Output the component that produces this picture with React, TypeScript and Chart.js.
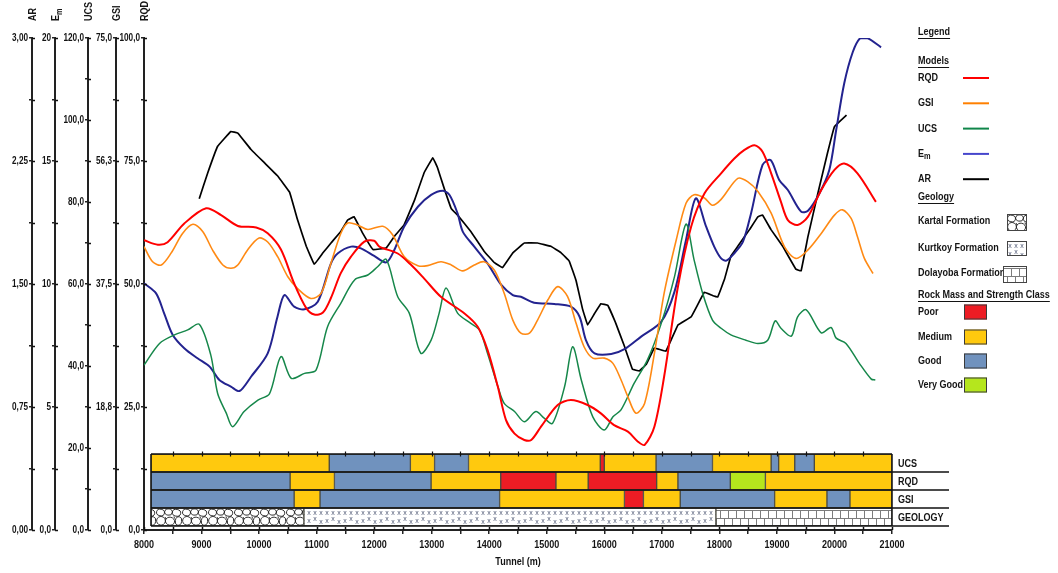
import { useEffect, useRef } from 'react';
import { Chart, registerables } from 'chart.js';

Chart.register(...registerables);

const W = 1058;
const H = 573;
const FONT = "'Liberation Sans', Arial, sans-serif";
const NARROW = 0.82; // the reference uses a narrow bold face

// ---- series: [chainage (m), value] ----
const rqdPoints: [number, number][] = [
  [8000, 58.9], [8240, 58.0], [8410, 58.5], [8700, 62.3], [9080, 65.4], [9340, 64.0], [9630, 61.8], [9950, 61.5],
  [10150, 60.3], [10380, 57.0], [10610, 50.1], [10820, 45.1], [10960, 43.8], [11110, 44.2], [11250, 47.2], [11420, 52.2],
  [11600, 55.6], [11830, 58.6], [12000, 58.8], [12090, 57.6], [12410, 56.2], [12640, 53.9], [12870, 51.1], [13160, 47.4],
  [13570, 44.0], [13800, 41.3], [13970, 36.6], [14150, 29.1], [14290, 22.4], [14440, 19.6], [14610, 18.3], [14730, 18.3],
  [14900, 21.0], [15190, 25.4], [15420, 26.4], [15710, 25.4], [15940, 23.7], [16170, 21.3], [16410, 20.0], [16580, 18.0],
  [16700, 17.3], [16870, 21.0], [17040, 31.2], [17280, 49.5], [17510, 61.7], [17740, 68.4], [18030, 72.5], [18260, 75.5],
  [18430, 77.2], [18610, 78.2], [18750, 76.9], [18900, 72.5], [19070, 66.7], [19190, 63.0], [19360, 62.0], [19540, 63.7],
  [19770, 69.1], [20000, 73.2], [20170, 74.5], [20400, 72.5], [20720, 66.7],
];

const gsiPoints: [number, number][] = [
  [8000, 43.2], [8150, 40.9], [8300, 40.4], [8470, 42.2], [8670, 45.2], [8850, 46.6], [9020, 45.5], [9190, 42.7],
  [9370, 40.4], [9510, 39.9], [9630, 40.4], [9800, 42.7], [10000, 44.5], [10150, 43.9], [10320, 41.7], [10500, 38.6],
  [10670, 36.8], [10900, 35.3], [11080, 36.1], [11250, 40.7], [11420, 45.2], [11540, 46.8], [11710, 46.5], [11890, 45.8],
  [12150, 46.3], [12320, 45.0], [12520, 41.7], [12760, 40.3], [12930, 40.3], [13160, 40.9], [13340, 40.4], [13540, 39.5],
  [13740, 40.4], [13910, 40.9], [14090, 39.6], [14260, 36.1], [14410, 32.0], [14550, 30.0], [14700, 30.0], [14840, 32.0],
  [15020, 35.1], [15190, 37.1], [15360, 35.6], [15510, 31.5], [15650, 27.9], [15800, 26.2], [16000, 26.2], [16150, 25.4],
  [16290, 22.9], [16410, 20.3], [16550, 17.8], [16700, 19.3], [16870, 26.9], [17040, 36.1], [17250, 44.2], [17420, 49.8],
  [17560, 51.1], [17740, 50.6], [17880, 49.5], [18030, 50.4], [18320, 53.6], [18490, 53.1], [18670, 51.6], [18900, 48.3],
  [19130, 43.2], [19330, 41.4], [19540, 42.7], [19770, 45.2], [20000, 48.0], [20140, 48.8], [20290, 47.5], [20400, 44.7],
  [20520, 41.4], [20670, 39.1],
];

const ucsPoints: [number, number][] = [
  [8000, 40.2], [8270, 45.5], [8530, 47.6], [8760, 48.8], [8960, 50.2], [9160, 42.7], [9280, 33.3], [9430, 28.5],
  [9540, 25.2], [9740, 28.9], [9980, 31.7], [10180, 33.2], [10380, 42.3], [10560, 37.0], [10790, 38.2], [10990, 39.0],
  [11190, 49.6], [11420, 55.3], [11660, 61.0], [11890, 62.2], [12060, 64.2], [12210, 66.0], [12410, 56.9], [12610, 52.9],
  [12810, 43.1], [12990, 46.3], [13130, 52.9], [13250, 59.0], [13450, 52.9], [13680, 50.4], [13830, 48.8], [13970, 43.1],
  [14150, 35.0], [14260, 30.9], [14440, 28.9], [14610, 26.4], [14810, 28.9], [14960, 27.2], [15100, 26.0], [15310, 35.0],
  [15450, 44.7], [15600, 36.6], [15800, 27.6], [16000, 24.4], [16150, 27.6], [16290, 29.3], [16520, 35.8], [16750, 41.5],
  [16990, 50.4], [17220, 61.8], [17420, 74.6], [17560, 65.9], [17710, 57.7], [17880, 51.2], [18030, 49.2], [18200, 47.6],
  [18460, 46.3], [18670, 45.5], [18840, 46.3], [18970, 51.0], [19070, 49.2], [19250, 47.3], [19360, 52.0], [19510, 53.7],
  [19770, 48.1], [19940, 49.4], [20030, 46.8], [20200, 45.5], [20430, 40.7], [20640, 36.8], [20710, 36.6],
];

const emPoints: [number, number][] = [
  [8000, 10.03], [8210, 9.62], [8350, 8.81], [8500, 7.93], [8700, 7.39], [8930, 6.98], [9140, 6.64], [9310, 6.10],
  [9510, 5.83], [9660, 5.65], [9860, 6.23], [10150, 7.18], [10320, 8.67], [10440, 9.55], [10610, 9.08], [10790, 8.97],
  [11020, 9.28], [11250, 10.84], [11370, 11.25], [11600, 11.52], [11770, 11.45], [12000, 11.14], [12210, 10.88], [12350, 11.38],
  [12520, 12.33], [12760, 13.14], [12990, 13.62], [13190, 13.79], [13310, 13.62], [13450, 12.87], [13540, 12.13], [13740, 11.52],
  [13970, 10.84], [14210, 9.96], [14410, 9.55], [14550, 9.48], [14780, 9.24], [15130, 9.19], [15420, 9.08], [15570, 8.67],
  [15680, 7.72], [15830, 7.18], [16120, 7.15], [16350, 7.35], [16640, 7.86], [16990, 8.47], [17220, 9.69], [17420, 11.79],
  [17590, 13.48], [17770, 12.33], [17910, 11.52], [18030, 11.04], [18120, 10.95], [18260, 11.25], [18410, 11.72], [18550, 12.87],
  [18750, 14.84], [18890, 15.04], [19040, 14.23], [19190, 13.82], [19420, 12.94], [19540, 12.98], [19740, 13.69], [19910, 14.63],
  [20030, 16.26], [20170, 18.16], [20320, 19.44], [20450, 20.0], [20580, 19.99], [20810, 19.62],
];

const arPoints: [number, number][] = [
  [8960, 2.02], [9110, 2.18], [9280, 2.34], [9510, 2.43], [9630, 2.42], [9860, 2.32], [10090, 2.24], [10320, 2.16],
  [10530, 2.06], [10670, 1.89], [10820, 1.73], [10960, 1.62], [11110, 1.69], [11250, 1.75], [11420, 1.82], [11540, 1.89],
  [11650, 1.91], [11800, 1.81], [11980, 1.71], [12210, 1.72], [12350, 1.79], [12520, 1.86], [12700, 2.01], [12870, 2.18],
  [13020, 2.27], [13100, 2.21], [13220, 2.08], [13340, 1.96], [13450, 1.92], [13680, 1.82], [13910, 1.70], [14090, 1.63],
  [14230, 1.60], [14410, 1.69], [14610, 1.75], [14840, 1.75], [15070, 1.73], [15250, 1.69], [15390, 1.64], [15510, 1.52],
  [15620, 1.35], [15710, 1.25], [15830, 1.32], [15940, 1.38], [16060, 1.37], [16200, 1.26], [16350, 1.12], [16490, 0.98],
  [16610, 0.97], [16730, 1.01], [16870, 1.11], [17070, 1.09], [17280, 1.25], [17510, 1.30], [17740, 1.45], [17880, 1.43],
  [17970, 1.42], [18090, 1.53], [18200, 1.67], [18320, 1.73], [18520, 1.83], [18670, 1.91], [18750, 1.92], [18900, 1.83],
  [19100, 1.73], [19330, 1.59], [19420, 1.58], [19540, 1.79], [19710, 2.05], [19880, 2.30], [20000, 2.46], [20210, 2.53],
];

// ---- classification bands: [from, to, class] ----
const bandRows = ['UCS', 'RQD', 'GSI', 'GEOLOGY'];
const ucsBands: [number, number, string][] = [
  [8120, 11220, 'Medium'], [11220, 12630, 'Good'], [12630, 13050, 'Medium'], [13050, 13640, 'Good'],
  [13640, 15930, 'Medium'], [15930, 16000, 'Poor'], [16000, 16900, 'Medium'], [16900, 17880, 'Good'],
  [17880, 18900, 'Medium'], [18900, 19030, 'Good'], [19030, 19310, 'Medium'], [19310, 19650, 'Good'],
  [19650, 21000, 'Medium'],
];
const rqdBands: [number, number, string][] = [
  [8120, 10540, 'Good'], [10540, 11310, 'Medium'], [11310, 12990, 'Good'], [12990, 14200, 'Medium'],
  [14200, 15160, 'Poor'], [15160, 15720, 'Medium'], [15720, 16910, 'Poor'], [16910, 17280, 'Medium'],
  [17280, 18190, 'Good'], [18190, 18800, 'Very Good'], [18800, 21000, 'Medium'],
];
const gsiBands: [number, number, string][] = [
  [8120, 10610, 'Good'], [10610, 11060, 'Medium'], [11060, 14180, 'Good'], [14180, 16350, 'Medium'],
  [16350, 16680, 'Poor'], [16680, 17320, 'Medium'], [17320, 18960, 'Good'], [18960, 19870, 'Medium'],
  [19870, 20270, 'Good'], [20270, 21000, 'Medium'],
];
const geologyBands: [number, number, string][] = [
  [8120, 10780, 'Kartal'], [10780, 17940, 'Kurtkoy'], [17940, 21000, 'Dolayoba'],
];

const classNames = ['Poor', 'Medium', 'Good', 'Very Good'];
const classColors = ['#ed1c24', '#ffc90e', '#7092be', '#b5e61d'];
const formationNames = ['Kartal', 'Kurtkoy', 'Dolayoba'];
const formationLabels = ['Kartal Formation', 'Kurtkoy Formation', 'Dolayoba Formation'];

// ---- tick labels ----
const xMajorTicks = [8000, 9000, 10000, 11000, 12000, 13000, 14000, 15000, 16000, 17000, 18000, 19000, 20000, 21000];
const arTicks = [0, 0.75, 1.5, 2.25, 3];
const arTickLabels = ['0,00', '0,75', '1,50', '2,25', '3,00'];
const emTicks = [0, 5, 10, 15, 20];
const emTickLabels = ['0,0', '5', '10', '15', '20'];
const ucsTicks = [0, 20, 40, 60, 80, 100, 120];
const ucsTickLabels = ['0,0', '20,0', '40,0', '60,0', '80,0', '100,0', '120,0'];
const gsiTicks = [0, 18.75, 37.5, 56.25, 75];
const gsiTickLabels = ['0,0', '18,8', '37,5', '56,3', '75,0'];
const rqdTicks = [0, 25, 50, 75, 100];
const rqdTickLabels = ['0,0', '25,0', '50,0', '75,0', '100,0'];

const modelNames = ['RQD', 'GSI', 'UCS', 'Em', 'AR'];
const modelLineColors = ['#ff0000', '#ff8a14', '#16874a', '#23238f', '#000000'];
const modelLegendColors = ['#ff0000', '#ff8000', '#10864a', '#4646cc', '#000000'];

const BAND_TOP = 454;
const BAND_BOTTOM = 526;
const TEXT = '#141414';

function withMinors(majors: number[]): number[] {
  const out: number[] = [];
  majors.forEach((v, i) => {
    out.push(v);
    if (i < majors.length - 1) out.push((v + majors[i + 1]) / 2);
  });
  return out;
}

function makeTile(w: number, h: number, draw: (g: CanvasRenderingContext2D) => void) {
  const c = document.createElement('canvas');
  c.width = w;
  c.height = h;
  const g = c.getContext('2d')!;
  g.fillStyle = '#ffffff';
  g.fillRect(0, 0, w, h);
  draw(g);
  return c;
}

function makeTiles(): Record<string, HTMLCanvasElement> {
  const kartal = makeTile(26, 18, (g) => {
    g.strokeStyle = '#1a1a1a';
    g.lineWidth = 0.9;
    const stones = [[4.5, 4.5, 4, 3.3], [12.5, 4, 3.8, 3.2], [20.5, 4.8, 4.2, 3.4], [5, 12.8, 4.4, 4.3], [14, 13.2, 4.6, 4], [22.5, 13, 3.2, 4.3]];
    stones.forEach(([cx, cy, rx, ry]) => {
      g.beginPath();
      g.ellipse(cx, cy, rx, ry, 0.2, 0, Math.PI * 2);
      g.stroke();
    });
    g.beginPath();
    g.moveTo(9, 9); g.lineTo(10, 11);
    g.moveTo(18, 8.5); g.lineTo(18.5, 10.5);
    g.stroke();
  });
  const kurtkoy = makeTile(18, 18, (g) => {
    g.fillStyle = '#4e5874';
    g.font = '7px sans-serif';
    g.textAlign = 'center';
    g.textBaseline = 'middle';
    [[3, 5], [9, 5], [15, 5], [3, 13], [9, 11.5], [15, 14]].forEach(([x, y]) => g.fillText('x', x, y));
  });
  const dolayoba = makeTile(16, 18, (g) => {
    g.strokeStyle = '#7c7c7c';
    g.lineWidth = 1;
    g.beginPath();
    g.moveTo(0, 2.5); g.lineTo(16, 2.5);
    g.moveTo(0, 10.5); g.lineTo(16, 10.5);
    g.moveTo(0.5, 2.5); g.lineTo(0.5, 10.5);
    g.moveTo(8.5, 2.5); g.lineTo(8.5, 10.5);
    g.moveTo(4.5, 10.5); g.lineTo(4.5, 17.5);
    g.moveTo(12.5, 10.5); g.lineTo(12.5, 17.5);
    g.moveTo(0, 17.5); g.lineTo(16, 17.5);
    g.stroke();
  });
  return { Kartal: kartal, Kurtkoy: kurtkoy, Dolayoba: dolayoba };
}

function yAxis(max: number, majors: number[], labels: string[], weight: number, width: number) {
  const all = withMinors(majors);
  return {
    type: 'linear',
    axis: 'y',
    position: 'left',
    min: 0,
    max,
    weight,
    afterBuildTicks: (s: any) => { s.ticks = all.map((v) => ({ value: v })); },
    afterFit: (s: any) => { s.width = width; },
    ticks: {
      autoSkip: false,
      padding: 1,
      color: TEXT,
      font: { family: FONT, size: 10, weight: 'bold' },
      callback: (v: number) => { const i = majors.indexOf(v); return i >= 0 ? labels[i] : ''; },
    },
    grid: { drawOnChartArea: false, tickLength: 3, color: '#222', lineWidth: 1.5 },
    border: { color: '#222', width: 2 },
  };
}

const yIds = ['yRQD', 'yGSI', 'yUCS', 'yEm', 'yAR'];

export default function App() {
  const ref = useRef<HTMLCanvasElement>(null);

  useEffect(() => {
    const canvas = ref.current!;
    const ctx0 = canvas.getContext('2d')!;
    // narrow-face emulation: every text drawn on this canvas is condensed horizontally
    const proto = CanvasRenderingContext2D.prototype.fillText;
    (ctx0 as any).fillText = function (t: string, x: number, y: number, mw?: number) {
      const w = ctx0.measureText(t).width * NARROW;
      proto.call(ctx0, t, x, y, mw !== undefined ? Math.min(mw, w) : w);
    };
    const tiles = makeTiles();
    const patterns: Record<string, CanvasPattern> = {};
    formationNames.forEach((k) => { patterns[k] = ctx0.createPattern(tiles[k], 'repeat')!; });

    const rows = [ucsBands, rqdBands, gsiBands, geologyBands];
    const bandData: any[] = [];
    const bandFill: any[] = [];
    rows.forEach((bands, r) => bands.forEach(([s, e, c]) => {
      bandData.push({ x: [s, e], y: bandRows[r] });
      const ci = classNames.indexOf(c);
      bandFill.push(ci >= 0 ? classColors[ci] : patterns[c]);
    }));

    const series = [rqdPoints, gsiPoints, ucsPoints, emPoints, arPoints];
    const widths = [2, 1.6, 1.5, 2, 1.7];
    const lineSets = series.map((pts, i) => ({
      type: 'line',
      label: modelNames[i],
      data: pts.map(([x, y]) => ({ x, y })),
      xAxisID: 'x',
      yAxisID: yIds[i],
      borderColor: modelLineColors[i],
      borderWidth: widths[i],
      pointRadius: 0,
      tension: i === 4 ? 0.05 : 0.3,
      fill: false,
      borderJoinStyle: 'round',
      order: 1,
    }));

    const narrowWidth = (ctx: CanvasRenderingContext2D, t: string) => ctx.measureText(t).width * NARROW;

    const decor = {
      id: 'decor',
      afterLayout(chart: any) {
        const yb = chart.scales.yb;
        yb.top = BAND_TOP;
        yb.bottom = BAND_BOTTOM;
        yb.height = BAND_BOTTOM - BAND_TOP;
        yb.configure();
        const rowH = (BAND_BOTTOM - BAND_TOP) / bandRows.length;
        const geoTop = yb.getPixelForValue(3) - rowH / 2;
        formationNames.forEach((k) => patterns[k].setTransform(new DOMMatrix([1, 0, 0, 1, 0, geoTop])));
      },
      afterDraw(chart: any) {
        const ctx: CanvasRenderingContext2D = chart.ctx;
        const xs = chart.scales.x;
        const yb = chart.scales.yb;
        const area = chart.chartArea;
        ctx.save();
        ctx.strokeStyle = '#111';
        ctx.fillStyle = TEXT;

        // inner halves of the y-axis ticks
        ctx.lineWidth = 1.5;
        yIds.forEach((id) => {
          const s = chart.scales[id];
          s.ticks.forEach((t: any) => {
            const y = Math.round(s.getPixelForValue(t.value)) + 0.5;
            ctx.beginPath();
            ctx.moveTo(s.right, y);
            ctx.lineTo(s.right + 3, y);
            ctx.stroke();
          });
        });
        // inner halves of x ticks
        xs.ticks.forEach((t: any) => {
          const x = Math.round(xs.getPixelForValue(t.value)) + 0.5;
          ctx.beginPath();
          ctx.moveTo(x, area.bottom);
          ctx.lineTo(x, area.bottom - 3);
          ctx.stroke();
        });

        // band frame
        const rowH = (BAND_BOTTOM - BAND_TOP) / bandRows.length;
        const left = Math.round(xs.getPixelForValue(ucsBands[0][0]));
        const right = area.right;
        const labelRight = 949;
        ctx.lineWidth = 1.5;
        ctx.strokeStyle = '#111';
        ctx.beginPath();
        ctx.moveTo(left, BAND_TOP); ctx.lineTo(right, BAND_TOP);
        ctx.moveTo(left, BAND_TOP); ctx.lineTo(left, BAND_BOTTOM);
        ctx.moveTo(right, BAND_TOP); ctx.lineTo(right, BAND_BOTTOM);
        for (let i = 1; i <= bandRows.length; i++) {
          const y = BAND_TOP + i * rowH;
          ctx.moveTo(left, y); ctx.lineTo(labelRight, y);
        }
        ctx.stroke();
        // ticks on band top
        ctx.lineWidth = 1.2;
        xs.ticks.forEach((t: any) => {
          const x = Math.round(xs.getPixelForValue(t.value)) + 0.5;
          if (x <= left || x >= right) return;
          ctx.beginPath();
          ctx.moveTo(x, BAND_TOP - 2.5);
          ctx.lineTo(x, BAND_TOP + 2.5);
          ctx.stroke();
        });
        // row labels
        ctx.font = `bold 11px ${FONT}`;
        ctx.textAlign = 'left';
        ctx.textBaseline = 'middle';
        bandRows.forEach((r, i) => {
          ctx.fillText(r, 898, yb.getPixelForValue(i) + 0.5);
        });

        // axis titles (rotated)
        const titles = ['RQD', 'GSI', 'UCS', 'E', 'AR'];
        yIds.forEach((id, i) => {
          const s = chart.scales[id];
          ctx.save();
          ctx.translate(s.right + 1, 21);
          ctx.rotate(-Math.PI / 2);
          ctx.font = `bold 11px ${FONT}`;
          ctx.textAlign = 'left';
          ctx.textBaseline = 'middle';
          ctx.fillText(titles[i], 0, 0);
          if (titles[i] === 'E') {
            const w = narrowWidth(ctx, 'E');
            ctx.font = `bold 9px ${FONT}`;
            ctx.fillText('m', w, 3.5);
          }
          ctx.restore();
        });

        // legend
        const header = (t: string, x: number, y: number) => {
          ctx.font = `bold 11px ${FONT}`;
          ctx.fillStyle = TEXT;
          ctx.fillText(t, x, y);
          ctx.fillRect(x, y + 6, narrowWidth(ctx, t), 1);
        };
        ctx.textAlign = 'left';
        ctx.textBaseline = 'middle';
        header('Legend', 918, 32);
        header('Models', 918, 61);
        modelNames.forEach((m, i) => {
          const y = 78 + i * 25.3;
          ctx.font = `bold 11px ${FONT}`;
          ctx.fillStyle = TEXT;
          if (m === 'Em') {
            ctx.fillText('E', 918, y);
            const w = narrowWidth(ctx, 'E');
            ctx.font = `bold 9px ${FONT}`;
            ctx.fillText('m', 918 + w, y + 3);
          } else {
            ctx.fillText(m, 918, y);
          }
          ctx.strokeStyle = modelLegendColors[i];
          ctx.lineWidth = 2;
          ctx.beginPath();
          ctx.moveTo(963, y);
          ctx.lineTo(989, y);
          ctx.stroke();
        });
        header('Geology', 918, 197);
        const geoY = [221, 248, 273];
        const geoBox = [[1007, 214, 20, 17], [1007, 241, 20, 15], [1003, 266, 24, 17]];
        formationLabels.forEach((lab, i) => {
          ctx.font = `bold 11px ${FONT}`;
          ctx.fillStyle = TEXT;
          ctx.fillText(lab, 918, geoY[i]);
          const [bx, by, bw, bh] = geoBox[i];
          ctx.save();
          ctx.translate(bx, by);
          ctx.fillStyle = ctx.createPattern(tiles[formationNames[i]], 'repeat')!;
          ctx.fillRect(0, 0, bw, bh);
          ctx.strokeStyle = '#444';
          ctx.lineWidth = 1;
          ctx.strokeRect(0.5, 0.5, bw - 1, bh - 1);
          ctx.restore();
        });
        header('Rock Mass and Strength Class', 918, 295);
        const clsY = [312, 337, 361, 385];
        classNames.forEach((c, i) => {
          ctx.font = `bold 11px ${FONT}`;
          ctx.fillStyle = TEXT;
          ctx.fillText(c, 918, clsY[i]);
          ctx.fillStyle = classColors[i];
          ctx.fillRect(964, clsY[i] - 7.5, 23, 15);
          ctx.strokeStyle = '#3a3a3a';
          ctx.lineWidth = 1;
          ctx.strokeRect(964.5, clsY[i] - 7, 22, 14);
        });
        ctx.restore();
      },
    };

    const chart = new Chart(canvas, {
      type: 'line',
      data: {
        datasets: [
          ...lineSets,
          {
            type: 'bar',
            label: 'Classes',
            indexAxis: 'y',
            xAxisID: 'x',
            yAxisID: 'yb',
            data: bandData,
            backgroundColor: bandFill,
            borderColor: '#4a4a40',
            borderWidth: 1,
            borderSkipped: false,
            categoryPercentage: 1,
            barPercentage: 1,
            grouped: false,
            order: 10,
          },
        ] as any,
      },
      options: {
        animation: false,
        responsive: false,
        maintainAspectRatio: false,
        devicePixelRatio: 1,
        events: [],
        layout: { padding: { top: 38, right: W - 892, bottom: 0, left: 0 } },
        plugins: { legend: { display: false }, tooltip: { enabled: false }, title: { display: false } },
        scales: {
          x: {
            type: 'linear',
            axis: 'x',
            position: 'bottom',
            min: 8000,
            max: 21000,
            afterBuildTicks: (s: any) => { s.ticks = withMinors(xMajorTicks).map((v) => ({ value: v })); },
            afterFit: (s: any) => { s.height = 43; },
            ticks: {
              autoSkip: false,
              maxRotation: 0,
              padding: 4,
              color: TEXT,
              font: { family: FONT, size: 11, weight: 'bold' },
              callback: (v: number) => (xMajorTicks.includes(v) ? String(v) : ''),
            },
            grid: { drawOnChartArea: false, tickLength: 4, color: '#222', lineWidth: 1.5 },
            border: { color: '#222', width: 2 },
            title: {
              display: true,
              text: 'Tunnel (m)',
              color: TEXT,
              font: { family: FONT, size: 11, weight: 'bold' },
              padding: { top: 0, bottom: 4 },
            },
          },
          yRQD: yAxis(100, rqdTicks, rqdTickLabels, 1, 28),
          yGSI: yAxis(75, gsiTicks, gsiTickLabels, 2, 28),
          yUCS: yAxis(120, ucsTicks, ucsTickLabels, 3, 33),
          yEm: yAxis(20, emTicks, emTickLabels, 4, 23),
          yAR: yAxis(3, arTicks, arTickLabels, 5, 32),
          yb: {
            type: 'category',
            axis: 'y',
            position: 'right',
            labels: bandRows,
            display: false,
            offset: true,
            grid: { offset: true },
          },
        } as any,
      },
      plugins: [decor as any],
    });
    return () => chart.destroy();
  }, []);

  return (
    <div style={{ position: 'fixed', left: 0, top: 0, width: W, height: H, background: '#ffffff' }}>
      <canvas ref={ref} width={W} height={H} style={{ display: 'block', width: W, height: H }} />
    </div>
  );
}
